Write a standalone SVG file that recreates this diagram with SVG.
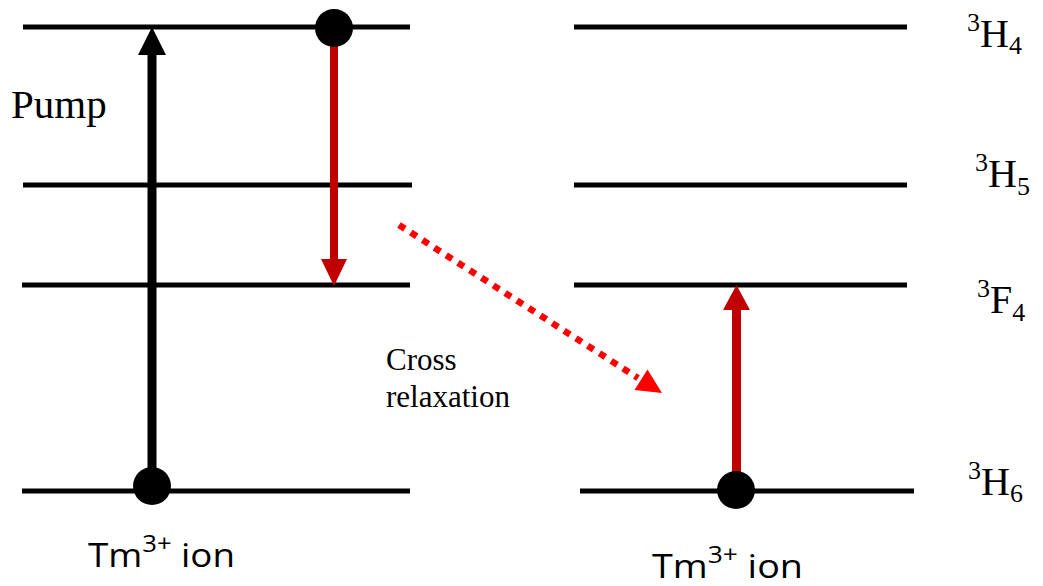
<svg xmlns="http://www.w3.org/2000/svg" width="1043" height="586" viewBox="0 0 1043 586">
<style>
.lvl{stroke:#000;stroke-width:5;fill:none}
.serif{font-family:"Liberation Serif","Times New Roman",serif;fill:#000}
.sans{font-family:"Open Sans","Liberation Sans",sans-serif;fill:#000}
.ss{font-size:26px}
</style>
<rect width="1043" height="586" fill="#fff"/>
<g id="levels-left">
<line class="lvl" x1="23" y1="27" x2="410" y2="27"/>
<line class="lvl" x1="23" y1="185" x2="412" y2="185"/>
<line class="lvl" x1="22" y1="285" x2="410" y2="285"/>
<line class="lvl" x1="22" y1="491" x2="410" y2="491"/>
</g>
<g id="levels-right">
<line class="lvl" x1="574" y1="27" x2="907" y2="27"/>
<line class="lvl" x1="574" y1="185" x2="907" y2="185"/>
<line class="lvl" x1="574" y1="285" x2="907" y2="285"/>
<line class="lvl" x1="580" y1="491" x2="914" y2="491"/>
</g>
<g id="connectors">
<line x1="152" y1="486" x2="152" y2="52" stroke="#000" stroke-width="9"/>
<polygon points="152,27 138,55 166,55" fill="#000"/>
<line x1="334" y1="30" x2="334" y2="262" stroke="#C00000" stroke-width="8"/>
<polygon points="321,259 347,259 334,286" fill="#C00000"/>
<line x1="736.5" y1="488" x2="736.5" y2="308" stroke="#C00000" stroke-width="9"/>
<polygon points="736.5,285 723,310 750,310" fill="#C00000"/>
<line x1="399" y1="225" x2="638" y2="378" stroke="#FF0000" stroke-width="6.5" stroke-dasharray="7 7"/>
<polygon points="662,393 634.5,390 647.5,369.5" fill="#FF0000"/>
</g>
<g id="electrons">
<circle cx="334" cy="28" r="19" fill="#000"/>
<circle cx="152" cy="486" r="19" fill="#000"/>
<circle cx="736" cy="490" r="19" fill="#000"/>
</g>
<g id="label-pump"><text class="serif" x="11" y="118" font-size="41">Pump</text></g>
<g id="label-cross">
<text class="serif" x="386" y="370" font-size="31">Cross</text>
<text class="serif" x="386" y="407" font-size="31">relaxation</text>
</g>
<g id="label-H4"><text class="serif" x="967" y="47" font-size="40"><tspan class="ss" dy="-16">3</tspan><tspan dy="16">H</tspan><tspan class="ss" dy="7">4</tspan></text></g>
<g id="label-H5"><text class="serif" x="975" y="187" font-size="40"><tspan class="ss" dy="-16">3</tspan><tspan dy="16">H</tspan><tspan class="ss" dy="8">5</tspan></text></g>
<g id="label-F4"><text class="serif" x="977" y="313" font-size="40"><tspan class="ss" dy="-16">3</tspan><tspan dy="16">F</tspan><tspan class="ss" dy="8">4</tspan></text></g>
<g id="label-H6"><text class="serif" x="968" y="495" font-size="40"><tspan class="ss" dy="-16">3</tspan><tspan dy="16">H</tspan><tspan class="ss" dy="7">6</tspan></text></g>
<g id="label-ion-left"><text class="sans" x="88" y="567" font-size="33" textLength="147" lengthAdjust="spacingAndGlyphs">Tm<tspan font-size="23" dy="-15">3+</tspan><tspan dy="15"> ion</tspan></text></g>
<g id="label-ion-right"><text class="sans" x="652" y="578" font-size="33" textLength="151" lengthAdjust="spacingAndGlyphs">Tm<tspan font-size="23" dy="-15">3+</tspan><tspan dy="15"> ion</tspan></text></g>
</svg>
